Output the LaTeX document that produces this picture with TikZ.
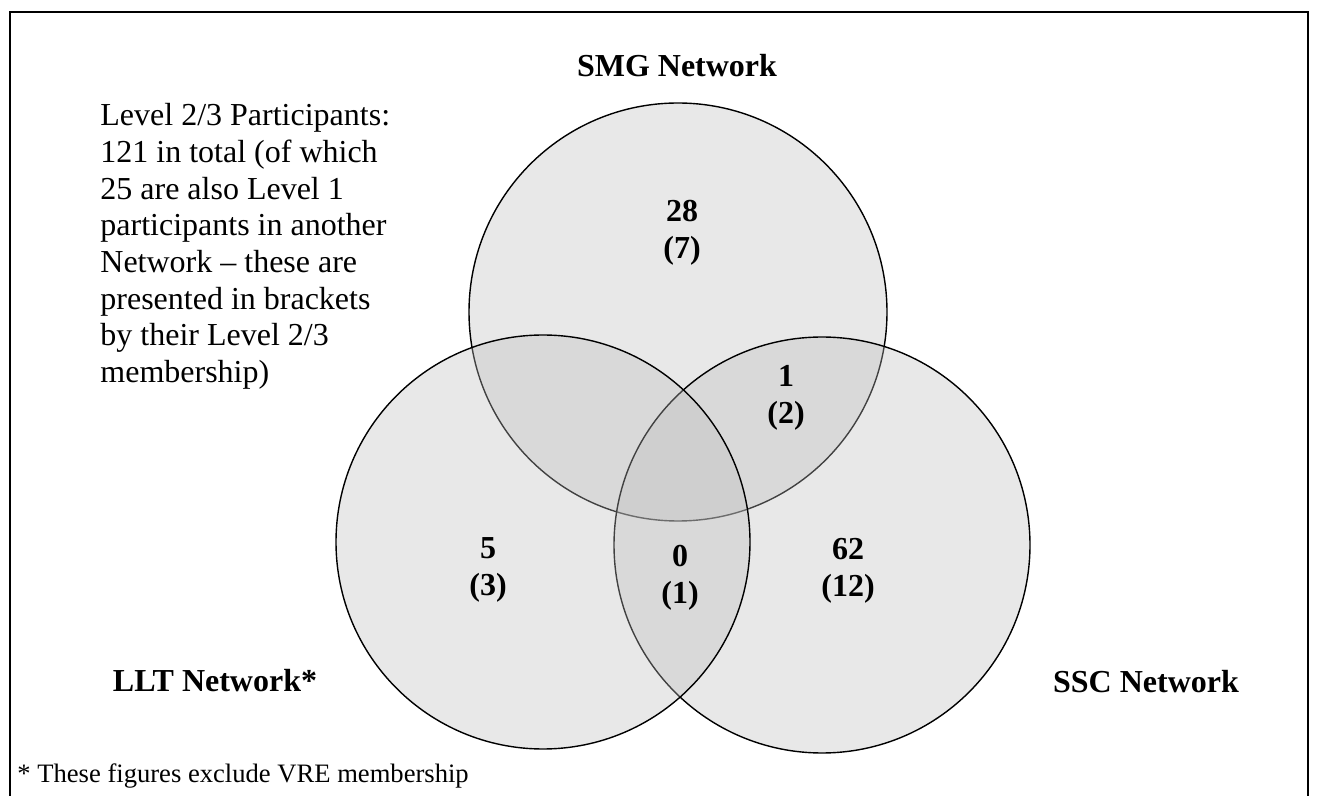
\documentclass[tikz,border=0pt]{standalone}
\usepackage{fontspec}
\setmainfont{Liberation Serif}
\usetikzlibrary{positioning}

\tikzset{
  venn/.style={
    circle,
    draw,
    line width=0.7pt,
    fill=black!26,
    fill opacity=0.35,
    text opacity=1,
    inner sep=0pt,
    minimum size=#1},
  netname/.style={font=\bfseries\fontsize{16}{18.5}\selectfont, inner sep=0pt},
  count/.style={font=\bfseries\fontsize{16}{18.5}\selectfont, align=center, inner sep=0pt},
  note/.style={font=\fontsize{16}{18.35}\selectfont, align=left, inner sep=0pt},
}

\begin{document}
\begin{tikzpicture}[x=0.5pt, y=-0.5pt]
  \useasboundingbox (0,0) rectangle (1319,796);

  % frame
  \draw[line width=1pt] (10,796) -- (10,12) -- (1308,12) -- (1308,796);

  % the three networks
  \node[venn=209pt] (smg) at (678,312) {};
  \node[venn=208pt] (ssc) at (822,545) {};
  \node[venn=207pt] (llt) at (543,542) {};

  \node[netname] (smgname) at (677,66) {SMG Network};
  \node[netname] (lltname) at (215,681) {LLT Network*};
  \node[netname] (sscname) at (1146,682) {SSC Network};

  % counts
  \node[count] (nsmg) at (682,233) {28\\(7)};
  \node[count] (nsmgssc) at (786,398) {1\\(2)};
  \node[count] (nllt) at (488,570) {5\\(3)};
  \node[count] (nall) at (680,578) {0\\(1)};
  \node[count] (nssc) at (848,571) {62\\(12)};

  \node[note, anchor=north west] (info) at (100,103) {Level 2/3 Participants:\\
    121 in total (of which\\
    25 are also Level 1\\
    participants in another\\
    Network -- these are\\
    presented in brackets\\
    by their Level 2/3\\
    membership)};

  \node[anchor=base west, inner sep=0pt, font=\fontsize{13.3}{16}\selectfont] (foot) at (17,783)
    {* These figures exclude VRE membership};
\end{tikzpicture}
\end{document}
